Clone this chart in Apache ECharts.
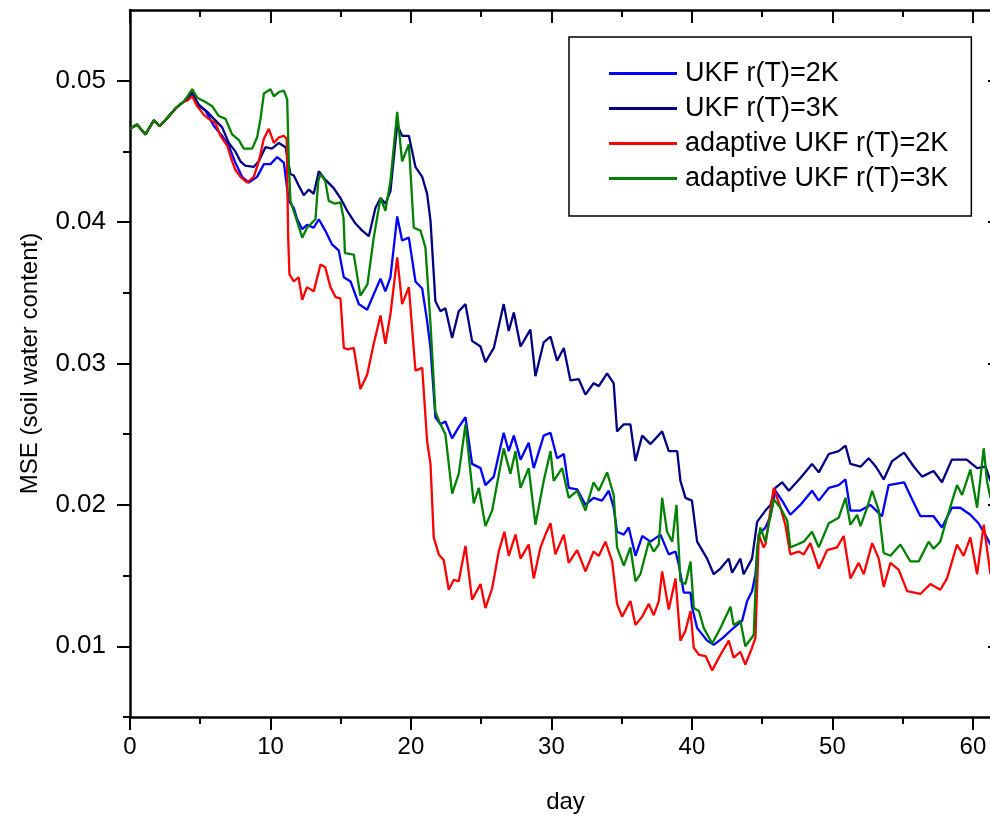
<!DOCTYPE html>
<html>
<head>
<meta charset="utf-8">
<script src="https://cdn.jsdelivr.net/npm/echarts@6/dist/echarts.min.js"></script>
<style>
  html, body { margin: 0; padding: 0; background: #fff; }
  #chart { width: 990px; height: 819px; }
</style>
</head>
<body>
<div id="chart"></div>
<script>
// series names (legend order)
const seriesNames = ['UKF r(T)=2K', 'UKF r(T)=3K', 'adaptive UKF r(T)=2K', 'adaptive UKF r(T)=3K'];
const seriesColors = ['#0000ff', '#000080', '#ff0000', '#008000'];

// shared start of all curves
const startDays = [0, 0.5, 1.1, 1.7, 2.1, 2.6, 3.3, 3.8];
const startVals = [0.0466, 0.0469, 0.0462, 0.0472, 0.0468, 0.0473, 0.0481, 0.0485];

// UKF r(T)=2K (blue)
const ukf2Days = [4.1, 4.43, 4.9, 5.37, 5.97, 6.56, 7.03, 7.5, 7.98, 8.46, 9.05, 9.53, 10.0, 10.48, 10.95, 11.3, 11.66, 11.9, 12.26, 12.6, 13.08, 13.44, 13.9, 14.39, 14.86, 15.22, 15.7, 16.29, 16.88, 17.35, 17.83, 18.18, 18.54, 19.02, 19.37, 19.85, 20.32, 20.8, 21.15, 21.39, 21.74, 22.1, 22.45, 22.93, 23.4, 23.88, 24.35, 24.95, 25.3, 25.9, 26.6, 26.96, 27.32, 27.8, 28.38, 28.74, 29.45, 29.93, 30.4, 30.88, 31.23, 31.83, 32.42, 33.0, 33.6, 34.08, 34.43, 34.67, 35.15, 35.5, 35.98, 36.46, 37.05, 37.76, 38.35, 38.83, 39.06, 39.42, 39.9, 40.0, 40.37, 41.08, 41.55, 42.2, 42.74, 43.2, 43.57, 43.93, 44.28, 44.52, 44.76, 45.23, 45.59, 45.94, 46.42, 47.0, 47.72, 48.55, 49.03, 49.74, 50.45, 50.93, 51.28, 52.0, 52.7, 53.53, 54.0, 55.1, 55.67, 56.26, 57.2, 57.8, 58.5, 59.1, 59.82, 60.4, 60.88, 61.25, 62];
const ukf2Vals = [0.0487, 0.0491, 0.0483, 0.0479, 0.0468, 0.0461, 0.0454, 0.0442, 0.0432, 0.0428, 0.0432, 0.0441, 0.0441, 0.0446, 0.0442, 0.0415, 0.0410, 0.0402, 0.0395, 0.0398, 0.0396, 0.0402, 0.0394, 0.0384, 0.0380, 0.0361, 0.0358, 0.0342, 0.0338, 0.0349, 0.0360, 0.0351, 0.0361, 0.0404, 0.0387, 0.0389, 0.0358, 0.0353, 0.0330, 0.0311, 0.0262, 0.0257, 0.0259, 0.0247, 0.0255, 0.0262, 0.0229, 0.0226, 0.0214, 0.0220, 0.0251, 0.0238, 0.0249, 0.0232, 0.0244, 0.0226, 0.0249, 0.0251, 0.0233, 0.0236, 0.0212, 0.0211, 0.0200, 0.0205, 0.0203, 0.0210, 0.0198, 0.0181, 0.0179, 0.0184, 0.0164, 0.0178, 0.0174, 0.0179, 0.0165, 0.0167, 0.0158, 0.0138, 0.0138, 0.0128, 0.0113, 0.0104, 0.0101, 0.0106, 0.0111, 0.0115, 0.0118, 0.0132, 0.0139, 0.0151, 0.0179, 0.0184, 0.0192, 0.0210, 0.0203, 0.0193, 0.0200, 0.0210, 0.0203, 0.0212, 0.0214, 0.0218, 0.0196, 0.0196, 0.0200, 0.0192, 0.0214, 0.0216, 0.0204, 0.0192, 0.0192, 0.0184, 0.0198, 0.0198, 0.0193, 0.0187, 0.0179, 0.0172, 0.0170];

// UKF r(T)=3K (navy)
const ukf3Days = [4.1, 4.43, 4.9, 5.5, 5.97, 6.56, 7.03, 7.5, 7.86, 8.2, 8.8, 9.17, 9.64, 10.1, 10.6, 11.07, 11.42, 11.66, 12.0, 12.37, 12.73, 13.08, 13.44, 13.9, 14.5, 14.98, 15.46, 16.05, 16.53, 17.0, 17.47, 17.83, 18.18, 18.54, 19.02, 19.37, 19.85, 20.32, 20.8, 21.15, 21.39, 21.74, 22.1, 22.45, 22.93, 23.4, 23.88, 24.35, 24.95, 25.3, 25.9, 26.6, 26.96, 27.32, 27.8, 28.5, 28.86, 29.45, 29.93, 30.4, 30.88, 31.35, 31.94, 32.42, 33.0, 33.37, 33.96, 34.43, 34.67, 35.15, 35.62, 35.98, 36.46, 37.05, 37.88, 38.35, 38.95, 39.18, 39.54, 40.0, 40.37, 41.08, 41.55, 42.03, 42.62, 42.86, 43.45, 43.68, 44.28, 44.64, 45.23, 45.59, 45.94, 46.42, 46.9, 47.72, 48.55, 49.03, 49.74, 50.45, 50.93, 51.28, 52.0, 52.58, 53.1, 53.65, 54.25, 55.1, 55.8, 56.38, 57.2, 57.8, 58.5, 59.56, 60.3, 60.9, 61.25, 62];
const ukf3Vals = [0.0487, 0.0492, 0.0482, 0.0478, 0.0473, 0.0467, 0.0456, 0.0450, 0.0443, 0.0440, 0.0439, 0.0443, 0.0453, 0.0452, 0.0456, 0.0453, 0.0434, 0.0433, 0.0426, 0.0419, 0.0423, 0.0420, 0.0436, 0.0430, 0.0424, 0.0417, 0.0408, 0.0399, 0.0394, 0.0390, 0.0410, 0.0417, 0.0413, 0.0422, 0.0469, 0.0461, 0.0461, 0.0439, 0.0432, 0.0420, 0.0401, 0.0344, 0.0337, 0.0339, 0.0318, 0.0337, 0.0342, 0.0316, 0.0312, 0.0301, 0.0311, 0.0342, 0.0323, 0.0336, 0.0312, 0.0324, 0.0291, 0.0315, 0.0319, 0.0302, 0.0311, 0.0288, 0.0289, 0.0278, 0.0286, 0.0284, 0.0293, 0.0286, 0.0252, 0.0257, 0.0257, 0.0231, 0.0249, 0.0243, 0.0252, 0.0238, 0.0238, 0.0217, 0.0205, 0.0203, 0.0174, 0.0162, 0.0151, 0.0155, 0.0162, 0.0152, 0.0162, 0.0151, 0.0162, 0.0188, 0.0196, 0.0200, 0.0212, 0.0216, 0.0210, 0.0219, 0.0229, 0.0223, 0.0236, 0.0238, 0.0242, 0.0229, 0.0227, 0.0233, 0.0227, 0.0218, 0.0231, 0.0237, 0.0227, 0.0220, 0.0224, 0.0216, 0.0232, 0.0232, 0.0226, 0.0227, 0.0217, 0.0216];

// adaptive UKF r(T)=2K (red)
const aukf2Days = [4.1, 4.43, 4.78, 5.25, 5.6, 6.09, 6.44, 6.92, 7.27, 7.5, 7.86, 8.34, 8.81, 9.17, 9.53, 9.88, 10.24, 10.6, 10.95, 11.15, 11.26, 11.35, 11.66, 12.0, 12.26, 12.6, 13.08, 13.56, 13.9, 14.27, 14.63, 14.98, 15.22, 15.5, 15.93, 16.4, 16.88, 17.35, 17.83, 18.18, 18.54, 19.02, 19.37, 19.85, 20.32, 20.8, 21.15, 21.39, 21.62, 21.98, 22.33, 22.69, 23.05, 23.4, 23.88, 24.35, 24.95, 25.3, 25.78, 26.25, 26.65, 26.96, 27.44, 27.8, 28.15, 28.38, 28.74, 29.22, 29.57, 29.93, 30.28, 30.88, 31.23, 31.83, 32.42, 33.0, 33.37, 33.84, 34.32, 34.67, 35.03, 35.62, 35.98, 36.46, 36.93, 37.28, 37.64, 37.88, 38.35, 38.83, 39.18, 39.54, 39.9, 40.13, 40.5, 40.98, 41.44, 42.03, 42.62, 42.97, 43.45, 43.8, 44.28, 44.52, 44.76, 45.1, 45.23, 45.82, 46.3, 46.65, 47.0, 47.6, 47.96, 48.43, 49.03, 49.62, 50.33, 50.8, 51.28, 51.87, 52.23, 52.83, 53.3, 53.65, 54.13, 54.72, 55.32, 56.26, 56.97, 57.68, 58.16, 58.87, 59.34, 59.82, 60.3, 60.77, 61.25, 62];
const aukf2Vals = [0.0486, 0.0489, 0.0482, 0.0476, 0.0473, 0.0470, 0.0461, 0.0454, 0.0443, 0.0437, 0.0432, 0.0428, 0.0432, 0.0443, 0.0459, 0.0466, 0.0456, 0.0460, 0.0461, 0.0459, 0.0389, 0.0363, 0.0358, 0.0361, 0.0345, 0.0354, 0.0351, 0.0370, 0.0368, 0.0354, 0.0347, 0.0346, 0.0311, 0.0310, 0.0311, 0.0282, 0.0292, 0.0314, 0.0334, 0.0314, 0.0335, 0.0375, 0.0342, 0.0354, 0.0295, 0.0297, 0.0245, 0.0229, 0.0177, 0.0165, 0.0161, 0.0140, 0.0147, 0.0146, 0.0171, 0.0133, 0.0144, 0.0127, 0.0141, 0.0167, 0.0181, 0.0164, 0.0179, 0.0162, 0.0168, 0.0172, 0.0148, 0.0170, 0.0179, 0.0187, 0.0165, 0.0179, 0.0159, 0.0168, 0.0153, 0.0167, 0.0164, 0.0174, 0.0160, 0.0130, 0.0121, 0.0132, 0.0115, 0.0121, 0.0130, 0.0122, 0.0132, 0.0153, 0.0126, 0.0148, 0.0104, 0.0111, 0.0125, 0.0099, 0.0094, 0.0093, 0.0083, 0.0094, 0.0104, 0.0092, 0.0096, 0.0087, 0.0099, 0.0106, 0.0179, 0.0170, 0.0172, 0.0212, 0.0198, 0.0186, 0.0165, 0.0167, 0.0165, 0.0173, 0.0155, 0.0168, 0.0170, 0.0178, 0.0148, 0.0159, 0.0151, 0.0173, 0.0162, 0.0142, 0.0159, 0.0154, 0.0139, 0.0137, 0.0144, 0.0140, 0.0148, 0.0172, 0.0164, 0.0177, 0.0151, 0.0186, 0.0151, 0.0158];

// adaptive UKF r(T)=3K (green)
const aukf3Days = [4.1, 4.43, 4.78, 5.37, 5.85, 6.32, 6.8, 7.27, 7.75, 8.1, 8.7, 9.05, 9.29, 9.53, 10.0, 10.24, 10.6, 10.95, 11.19, 11.3, 11.42, 11.78, 12.26, 12.6, 13.2, 13.4, 13.56, 13.9, 14.15, 14.6, 14.98, 15.2, 15.3, 15.93, 16.4, 16.9, 17.35, 17.83, 18.18, 18.54, 19.02, 19.37, 19.85, 20.2, 20.68, 21.03, 21.39, 21.74, 22.1, 22.45, 22.93, 23.4, 23.88, 24.47, 24.83, 25.3, 25.78, 26.6, 27.08, 27.44, 27.8, 28.38, 28.86, 29.45, 29.93, 30.16, 30.76, 31.23, 31.83, 32.42, 33.0, 33.37, 33.96, 34.43, 34.67, 35.15, 35.62, 35.98, 36.33, 36.93, 37.28, 37.64, 37.88, 38.23, 38.6, 38.9, 39.18, 39.54, 39.9, 40.13, 40.5, 40.84, 41.44, 42.03, 42.74, 42.97, 43.45, 43.8, 44.4, 44.64, 44.87, 45.23, 45.82, 46.3, 46.78, 47.0, 47.49, 47.96, 48.55, 49.03, 49.74, 50.45, 50.93, 51.28, 51.76, 52.0, 52.47, 52.83, 53.3, 53.65, 54.13, 54.84, 55.55, 56.14, 56.85, 57.2, 57.68, 58.16, 58.87, 59.23, 59.82, 60.3, 60.77, 61.0, 61.25, 62];
const aukf3Vals = [0.0489, 0.0494, 0.0488, 0.0485, 0.0482, 0.0475, 0.0473, 0.0462, 0.0458, 0.0452, 0.0452, 0.0460, 0.0473, 0.0491, 0.0494, 0.0489, 0.0492, 0.0493, 0.0487, 0.0443, 0.0415, 0.0404, 0.0389, 0.0396, 0.0402, 0.0429, 0.0434, 0.0429, 0.0415, 0.0413, 0.0414, 0.0403, 0.0378, 0.0377, 0.0348, 0.0356, 0.0389, 0.0417, 0.0408, 0.0429, 0.0478, 0.0443, 0.0455, 0.0396, 0.0394, 0.0382, 0.0328, 0.0266, 0.0257, 0.0250, 0.0208, 0.0222, 0.0257, 0.0201, 0.0212, 0.0185, 0.0196, 0.0240, 0.0222, 0.0238, 0.0212, 0.0226, 0.0186, 0.0217, 0.0238, 0.0217, 0.0226, 0.0205, 0.0210, 0.0196, 0.0216, 0.0210, 0.0223, 0.0207, 0.0170, 0.0157, 0.0170, 0.0146, 0.0151, 0.0174, 0.0167, 0.0172, 0.0205, 0.0181, 0.0174, 0.0200, 0.0146, 0.0144, 0.0160, 0.0127, 0.0125, 0.0113, 0.0102, 0.0113, 0.0128, 0.0115, 0.0118, 0.0100, 0.0108, 0.0170, 0.0184, 0.0174, 0.0204, 0.0198, 0.0189, 0.0170, 0.0172, 0.0174, 0.0181, 0.0170, 0.0187, 0.0191, 0.0205, 0.0186, 0.0193, 0.0185, 0.0198, 0.0210, 0.0196, 0.0166, 0.0164, 0.0172, 0.0160, 0.0160, 0.0174, 0.0169, 0.0174, 0.0191, 0.0214, 0.0207, 0.0225, 0.0198, 0.0240, 0.0217, 0.0205, 0.0203];

// axis ticks
const xMajor = [0, 10, 20, 30, 40, 50, 60];
const xMinor = [5, 15, 25, 35, 45, 55];
const yMajor = [0.01, 0.02, 0.03, 0.04, 0.05];
const yMinor = [0.005, 0.015, 0.025, 0.035, 0.045];
const xMin = 0, xMax = 62;
const yMin = 0.005, yMax = 0.055;

function toPairs(days, vals) {
  const d = startDays.concat(days);
  const v = startVals.concat(vals);
  return d.map((x, i) => [x, v[i]]);
}

const seriesData = [
  toPairs(ukf2Days, ukf2Vals),
  toPairs(ukf3Days, ukf3Vals),
  toPairs(aukf2Days, aukf2Vals),
  toPairs(aukf3Days, aukf3Vals)
];

const black = '#000';
const narrow = '"Liberation Sans Narrow", "Arial Narrow", "Liberation Sans", Arial, sans-serif';
const sans = '"Liberation Sans", Arial, sans-serif';
const tickLine = { color: black, width: 2 };

function xAxisDef(pos, ticks, len, inside, withLine, withLabel) {
  const a = {
    type: 'value', position: pos, min: xMin, max: xMax,
    splitLine: { show: false },
    axisLine: { show: withLine, onZero: false, lineStyle: { color: black, width: 2.5 } },
    axisTick: { show: true, inside: inside, length: len, customValues: ticks, lineStyle: tickLine },
    axisLabel: { show: false }
  };
  if (withLabel) {
    a.axisLabel = {
      show: true, customValues: xMajor, margin: 18, color: black,
      fontSize: 24, fontFamily: narrow
    };
    a.name = 'day';
    a.nameLocation = 'middle';
    a.nameGap = 73;
    a.nameTextStyle = { color: black, fontSize: 24, fontFamily: narrow };
  }
  return a;
}

function yAxisDef(pos, ticks, len, inside, withLine, withLabel) {
  const a = {
    type: 'value', position: pos, min: yMin, max: yMax,
    splitLine: { show: false },
    axisLine: { show: withLine, onZero: false, lineStyle: { color: black, width: 2.5 } },
    axisTick: { show: true, inside: inside, length: len, customValues: ticks, lineStyle: tickLine },
    axisLabel: { show: false }
  };
  if (withLabel) {
    a.axisLabel = {
      show: true, customValues: yMajor, margin: 24, color: black,
      fontSize: 26, fontFamily: sans,
      formatter: v => v.toFixed(2)
    };
    a.name = 'MSE (soil water content)';
    a.nameLocation = 'middle';
    a.nameGap = 88;
    a.nameTextStyle = { color: black, fontSize: 24, fontFamily: narrow };
  }
  return a;
}

const chart = echarts.init(document.getElementById('chart'), null, { renderer: 'canvas' });

chart.setOption({
  backgroundColor: '#fff',
  animation: false,
  grid: { left: 130, top: 10, right: -11, bottom: 102, containLabel: false, outerBoundsMode: 'none' },
  legend: {
    orient: 'vertical',
    left: 569, top: 37,
    padding: [23, 23, 24, 40],
    borderColor: black, borderWidth: 1.5,
    backgroundColor: '#fff',
    icon: 'rect',
    itemWidth: 68, itemHeight: 3, itemGap: 8,
    textStyle: { color: black, fontSize: 27, fontFamily: sans, lineHeight: 26, padding: [0, 0, 0, 3] },
    data: seriesNames
  },
  xAxis: [
    xAxisDef('bottom', xMajor, 13, false, true, true),
    xAxisDef('bottom', xMinor, 7, false, false, false),
    xAxisDef('top', xMajor, 13, true, true, false),
    xAxisDef('top', xMinor, 7, true, false, false)
  ],
  yAxis: [
    yAxisDef('left', yMajor, 13, false, true, true),
    yAxisDef('left', yMinor, 7, false, false, false),
    yAxisDef('right', yMajor, 13, true, true, false),
    yAxisDef('right', yMinor, 7, true, false, false)
  ],
  series: seriesNames.map((name, i) => ({
    name: name,
    type: 'line',
    xAxisIndex: 0,
    yAxisIndex: 0,
    data: seriesData[i],
    showSymbol: false,
    symbol: 'none',
    smooth: false,
    color: seriesColors[i],
    lineStyle: { color: seriesColors[i], width: 2.3 },
    z: 2 + i
  }))
});
</script>
</body>
</html>
